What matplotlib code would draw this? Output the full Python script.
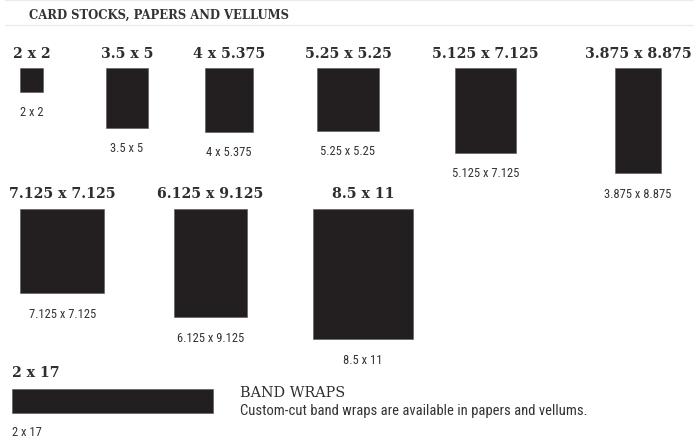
import matplotlib
matplotlib.use("Agg")
import matplotlib.pyplot as plt
from matplotlib.patches import Rectangle
from matplotlib import font_manager

# ---- data ----
header = "CARD STOCKS, PAPERS AND VELLUMS"
card_widths = [2, 3.5, 4, 5.25, 5.125, 3.875, 7.125, 6.125, 8.5]
card_heights = [2, 5, 5.375, 5.25, 7.125, 8.875, 7.125, 9.125, 11]
card_labels = ["2 x 2", "3.5 x 5", "4 x 5.375", "5.25 x 5.25", "5.125 x 7.125",
               "3.875 x 8.875", "7.125 x 7.125", "6.125 x 9.125", "8.5 x 11"]
band_size = (2, 17)          # short side x long side (drawn horizontally)
band_label = "2 x 17"
band_title = "BAND WRAPS"
band_text = "Custom-cut band wraps are available in papers and vellums."

# ---- layout (pixels) ----
PX_PER_IN = 11.85
card_cx = [31.5, 127, 229, 348, 485.5, 638, 62.2, 210.5, 363]
card_top = [69.3] * 6 + [210] * 3
band_left, band_top = 11.7, 390

fl = font_manager.fontManager.ttflist
names = {f.name for f in fl}
NARROW_KW = None
for cand in ["Liberation Sans Narrow", "Roboto Condensed", "Open Sans Condensed"]:
    if cand in names:
        NARROW_KW = dict(family=cand)
        small_fs, desc_fs = 9.0, 10.5
        break
if NARROW_KW is None:
    cond = [f for f in fl if f.name == "DejaVu Sans" and str(f.stretch) in ("condensed", "semi-condensed")]
    if cond:
        NARROW_KW = dict(family="DejaVu Sans", stretch="condensed")
        small_fs, desc_fs = 8.0, 9.2
    else:
        NARROW_KW = dict(family="DejaVu Sans")
        small_fs, desc_fs = 7.2, 8.1
SLAB = "DejaVu Serif"

RECT_C = "#231f20"
TITLE_C = "#2e2e2e"
LABEL_C = "#333333"

fig = plt.figure(figsize=(6.94, 4.39), dpi=100)
ax = fig.add_axes([0, 0, 1, 1])
ax.set_xlim(0, 694)
ax.set_ylim(439, 0)
ax.axis("off")

# rules and header
ax.plot([5, 694], [0.8, 0.8], color="#ebebeb", lw=1.0)
ax.plot([5, 694], [26.2, 26.2], color="#ebebeb", lw=1.0)
ax.text(29.3, 18.3, header, family=SLAB, weight="bold", fontsize=8.4,
        color="#333333", ha="left", va="baseline")

for w, h, lab, cx, top in zip(card_widths, card_heights, card_labels, card_cx, card_top):
    pw, ph = w * PX_PER_IN, h * PX_PER_IN
    ax.add_patch(Rectangle((cx - pw / 2, top), pw, ph, facecolor=RECT_C,
                           edgecolor="#555555", lw=0.4))
    ax.text(cx, top - 11.7, lab, family=SLAB, weight="bold", fontsize=10.2,
            color=TITLE_C, ha="center", va="baseline")
    ax.text(cx, top + ph + 23.5, lab, fontsize=small_fs,
            color=LABEL_C, ha="center", va="baseline", **NARROW_KW)

# band wrap
bw, bh = band_size[1] * PX_PER_IN, band_size[0] * PX_PER_IN
ax.add_patch(Rectangle((band_left, band_top), bw, bh, facecolor=RECT_C,
                       edgecolor="#555555", lw=0.4))
ax.text(band_left, band_top - 13.3, band_label, family=SLAB, weight="bold",
        fontsize=10.2, color=TITLE_C, ha="left", va="baseline")
ax.text(band_left, 436.0, band_label,
        fontsize=small_fs, color=LABEL_C, ha="left", va="baseline", **NARROW_KW)
ax.text(240, 397, band_title, family=SLAB, fontsize=10.4, color=TITLE_C,
        ha="left", va="baseline")
ax.text(240, 415, band_text, fontsize=desc_fs, color=LABEL_C,
        ha="left", va="baseline", **NARROW_KW)

fig.savefig("out.png", dpi=100, facecolor="white")
